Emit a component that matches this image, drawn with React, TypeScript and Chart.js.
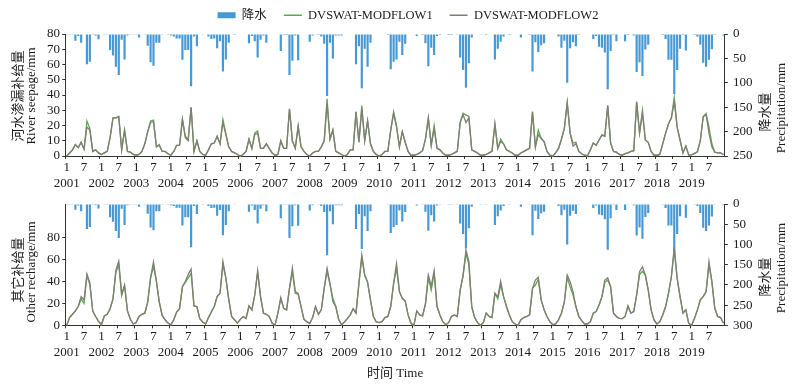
import React, { useEffect, useRef } from 'react';
import { Chart, registerables } from 'chart.js';

Chart.register(...registerables);

const FONT = "'Liberation Serif', 'Noto Sans CJK SC', serif";
const TEXT = '#1a1a1a';
const AXIS = '#333333';
const BAR_COLOR = '#4599d6';
const GREEN = '#55ad46';
const GRAY = '#857c78';

const years = [2001, 2002, 2003, 2004, 2005, 2006, 2007, 2008, 2009, 2010, 2011, 2012, 2013, 2014, 2015, 2016, 2017, 2018, 2019];
const monthNumbers = [1, 2, 3, 4, 5, 6, 7, 8, 9, 10, 11, 12];
const monthLabels = years.flatMap((y) => monthNumbers.map((m) => `${y}-${m}`));

// 降水 Precipitation (mm), one row per year
const precipitation = [
  [0.5, 0.5, 0.5, 14, 4, 18, 1, 62, 57, 0.5, 3, 11],
  [1, 0.5, 0.5, 33, 44, 67, 84, 12, 52, 3, 0.5, 0.5],
  [0.5, 7, 1, 0.5, 24, 58, 65, 18, 18, 0.5, 1, 0.5],
  [3, 5, 9, 9, 53, 33, 33, 107, 5, 25, 1, 0.5],
  [1, 5, 10, 9, 29, 15, 77, 52, 18, 1, 2, 1],
  [1, 1, 1, 19, 4, 15, 48, 12, 3, 18, 1, 1],
  [1, 1, 35, 2, 2, 84, 55, 3, 54, 1, 1, 1],
  [16, 3, 1, 2, 5, 20, 127, 18, 50, 3, 3, 3],
  [1, 1, 1, 1, 62, 25, 111, 30, 67, 18, 1, 1],
  [1, 1, 1, 2, 72, 57, 52, 16, 43, 20, 1, 1],
  [1, 4, 1, 2, 19, 66, 28, 43, 4, 2, 1, 1],
  [2, 2, 1, 0.5, 48, 74, 110, 60, 7, 1, 1, 0.5],
  [1, 2, 1, 1, 52, 30, 16, 5, 1, 2, 1, 1],
  [1, 7, 1, 1, 2, 77, 17, 37, 23, 19, 1, 1],
  [1, 1, 5, 28, 14, 100, 29, 17, 25, 2, 1, 1],
  [1, 1, 10, 4, 26, 28, 38, 113, 35, 2, 15, 1],
  [1, 15, 2, 1, 3, 78, 58, 86, 32, 22, 1, 1],
  [1, 1, 2, 10, 53, 53, 123, 74, 30, 2, 34, 1],
  [1, 2, 5, 22, 59, 67, 53, 31, 2, 1, 1, 3],
].flat();

// 河水渗漏补给量 River seepage (mm) — DVSWAT-MODFLOW1
const seepage1 = [
  [0, 2, 4, 7.5, 5.5, 9, 4.5, 23, 18, 3, 4, 2],
  [1, 2, 3, 12, 25, 25, 26, 4, 17, 3, 2.5, 1],
  [0.5, 1, 3, 8, 16, 23, 23.5, 6, 7.5, 3, 3, 1.5],
  [0.5, 3, 7, 7, 24, 13, 11, 32, 3, 10, 3, 1],
  [0.5, 4, 8, 8.5, 13, 8, 24, 15, 6, 3, 2, 1],
  [0, 1, 3, 11, 5, 15, 16.5, 5, 5, 8, 5, 2],
  [0.5, 1, 10, 5, 5, 31, 10, 5, 20, 6, 3, 1],
  [0, 2, 3, 3, 6, 10, 37.5, 11, 17, 3, 2, 1],
  [0, 1, 4, 4, 29, 9, 33, 10, 23, 8, 3, 1],
  [0, 1, 3, 3, 17, 29, 20, 6, 16, 9, 3, 0.5],
  [0.5, 1, 2, 3.5, 11, 25, 7, 20, 5, 4, 2, 0.5],
  [0.5, 1, 2, 3, 22, 28, 27, 26, 4, 3, 2, 0.5],
  [0.5, 1, 2, 3, 21, 5, 11, 8, 4, 3, 2, 0.5],
  [0.5, 2, 3, 4, 5, 29, 6, 17, 11.5, 9.5, 3, 0.5],
  [0, 2, 5, 11, 18, 35, 15, 8.5, 9, 3, 1.5, 0.5],
  [0, 4, 8.5, 7, 10.5, 14, 13, 33, 8.5, 3, 2.5, 1],
  [0.5, 1.5, 2, 3, 3.5, 35.5, 15, 30, 10.5, 9, 3, 0.5],
  [0.5, 1, 8, 15, 21, 25, 38.5, 19, 10.5, 2, 6.5, 0.6],
  [0.7, 1.7, 2.8, 10, 25.8, 28, 19, 8, 2.5, 2, 2, 1],
].flat();

// 河水渗漏补给量 River seepage (mm) — DVSWAT-MODFLOW2
const seepage2 = [
  [0, 2, 4, 7.5, 5.5, 9, 4.5, 19, 17, 3, 4, 2],
  [1, 2, 3, 12, 25, 25, 25.5, 4, 17, 3, 2.5, 1],
  [0.5, 1, 3, 8, 16, 22, 22.5, 6, 7, 3, 3, 1.5],
  [0.5, 3, 7, 7, 24, 12, 10, 32, 3, 10, 3, 1],
  [0.5, 4, 8, 8.5, 13, 8, 22, 14, 6, 3, 2, 1],
  [0, 1, 3, 11, 5, 14, 15, 5, 5, 8, 5, 2],
  [0.5, 1, 10, 5, 5, 31, 10, 5, 19, 6, 3, 1],
  [0, 2, 3, 3, 6, 10, 34, 11, 17, 3, 2, 1],
  [0, 1, 4, 4, 29, 9, 31, 10, 23, 8, 3, 1],
  [0, 1, 3, 3, 17, 28, 19, 6, 16, 9, 3, 0.5],
  [0.5, 1, 2, 3.5, 11, 25, 7, 18, 5, 4, 2, 0.5],
  [0.5, 1, 2, 3, 22, 27, 22, 25, 4, 3, 2, 0.5],
  [0.5, 1, 2, 3, 21, 5, 9.5, 8, 4, 3, 2, 0.5],
  [0.5, 2, 3, 4, 5, 29, 6, 14, 11.5, 9.5, 3, 0.5],
  [0, 2, 5, 11, 18, 35, 15, 6.5, 8, 3, 1.5, 0.5],
  [0, 4, 8.5, 7, 10.5, 13.5, 13, 33, 8.5, 3, 2.5, 1],
  [0.5, 1.5, 2, 3, 3.5, 35.5, 15, 28, 10.5, 9, 3, 0.5],
  [0.5, 1, 8, 15, 21, 25, 35.5, 19, 10.5, 2, 6.5, 0.6],
  [0.7, 1.7, 2.8, 10, 25.8, 27, 15, 6, 2.5, 2, 2, 1],
].flat();

// 其它补给量 Other recharge (mm) — DVSWAT-MODFLOW1
const recharge1 = [
  [0, 7, 10, 13, 17, 24, 20, 45, 37, 13, 8, 3.5],
  [0.5, 8.5, 10, 15, 24, 48, 55, 27, 36, 13, 5.5, 1.2],
  [2.5, 8, 10, 11, 21, 43, 53, 40, 21, 9, 5, 2],
  [0.5, 5, 12, 15, 35, 39, 43, 47, 17.5, 17, 6, 3],
  [1.2, 7, 12, 17, 26, 29, 55, 43, 23, 8, 5, 2],
  [5.4, 8, 6.3, 17.5, 14, 27.5, 48, 26, 11, 10, 8, 2],
  [0, 11, 24.5, 15.4, 14, 33.5, 48.6, 29, 28, 17, 5.4, 3.3],
  [1.7, 7, 17, 10, 14, 33.5, 49, 37, 24.5, 17, 5.5, 0.5],
  [3, 6, 9.5, 15, 11, 38, 61, 45, 39, 23, 8, 3],
  [2.4, 3.3, 7, 8, 17, 38, 51.6, 30.5, 24.5, 22, 9.4, 1.8],
  [0, 13, 9.4, 8.5, 19.3, 43, 32, 47, 17, 9.4, 3.3, 0.5],
  [2.4, 8, 9.4, 8, 32, 45, 65, 55, 17, 7, 2.4, 0],
  [2.4, 11, 8, 7, 29, 24, 36.5, 26, 17, 9.4, 3.3, 1.2],
  [0, 5, 7, 8, 9.4, 33.5, 36.5, 41.7, 23, 14, 8, 3.3],
  [0.5, 1.2, 5, 11, 21, 43.5, 35, 27.5, 17, 8, 4.2, 1.2],
  [1.2, 3.3, 11, 12.4, 18.4, 26, 39, 41, 35, 11, 8, 6.3],
  [6, 8, 17.5, 11, 12.4, 27.5, 46, 49, 45.6, 32, 14, 4.8],
  [1.2, 3.3, 9.4, 17, 29, 44, 68, 42.6, 26, 11, 14, 1.8],
  [0, 6.3, 14, 23, 26, 30.5, 54.7, 39.6, 15.4, 8, 7, 1.8],
].flat();

// 其它补给量 Other recharge (mm) — DVSWAT-MODFLOW2
const recharge2 = [
  [0, 7, 10, 13, 17, 26, 23, 46.5, 38.5, 13, 8, 3.5],
  [0.5, 8.5, 10, 15, 24, 50, 58, 28, 36.5, 13, 5.5, 1.2],
  [2.5, 8, 10, 11, 21, 43.5, 57.5, 40, 21, 9, 5, 2],
  [0.5, 5, 12, 15, 35, 40, 46, 51, 17.5, 17, 6, 3],
  [1.2, 7, 12, 17, 26, 29, 58, 43, 24, 8, 5, 2],
  [5.4, 8, 6.3, 17.5, 14, 27.5, 49.5, 26, 11, 10, 8, 2],
  [0, 11, 25, 15.4, 14, 33.5, 52, 30.5, 29, 17, 5.4, 3.3],
  [1.7, 7, 17, 10, 14, 33.5, 51.6, 38, 21.5, 17, 5.5, 0.5],
  [3, 6, 9.5, 15, 11, 38, 64, 46, 39, 23, 8, 3],
  [2.4, 3.3, 7, 8, 17, 38, 56, 30.5, 24.5, 22, 9.4, 1.8],
  [0, 13, 9.4, 8.5, 19.3, 45.6, 35.6, 49.5, 17, 9.4, 3.3, 0.5],
  [2.4, 8, 9.4, 8, 32, 45, 68, 58, 17, 7, 2.4, 0],
  [2.4, 11, 8, 7, 29, 26, 40, 26, 17, 9.4, 3.3, 1.2],
  [0, 5, 7, 8, 9.4, 33.5, 41, 43.5, 23, 14, 8, 3.3],
  [0.5, 1.2, 5, 11, 21, 45.6, 39.6, 30.5, 17, 8, 4.2, 1.2],
  [1.2, 3.3, 11, 12.4, 18.4, 26, 41, 43, 35, 11, 8, 6.3],
  [6, 8, 17.5, 11, 12.4, 27.5, 48.6, 53, 45.6, 32, 14, 4.8],
  [1.2, 3.3, 9.4, 17, 29, 44, 71, 42.6, 26, 11, 14, 1.8],
  [0, 6.3, 14, 23, 26, 30.5, 57.7, 39.6, 15.4, 8, 7, 1.8],
].flat();

const seriesNames = ['降水', 'DVSWAT-MODFLOW1', 'DVSWAT-MODFLOW2'];

const axisTitlePlugin = {
  id: 'axisTitles',
  afterDraw(chart: any, _args: any, opts: any) {
    const ctx = chart.ctx;
    ctx.save();
    ctx.fillStyle = TEXT;
    ctx.textAlign = 'center';
    ctx.textBaseline = 'middle';
    for (const item of opts.items || []) {
      ctx.font = `${item.size}px ${FONT}`;
      ctx.save();
      ctx.translate(item.x, item.y);
      ctx.rotate(-Math.PI / 2);
      ctx.fillText(item.text, 0, 0);
      ctx.restore();
    }
    ctx.restore();
  },
};

// moves the legend box after layout so it sits where the reference legend sits
const legendShiftPlugin = {
  id: 'legendShift',
  afterLayout(chart: any, _args: any, opts: any) {
    const lg = chart.legend;
    if (!lg || !chart.options.plugins.legend.display) return;
    const dx = opts.dx || 0;
    lg.left += dx;
    lg.right += dx;
    if (typeof opts.top === 'number') {
      const h = lg.bottom - lg.top;
      lg.top = opts.top;
      lg.bottom = opts.top + h;
    }
  },
};

const LEGEND_PAD = 17;
const TOP_PAD = -8;
const PLOT_TOP = 34;

function makeConfig(isTop: boolean): any {
  const font = { family: FONT, size: 13 };
  const scales: any = {
    x: {
      type: 'category',
      offset: true,
      grid: {
        display: true,
        drawOnChartArea: false,
        drawTicks: true,
        tickLength: 3,
        offset: true,
        color: (c: any) => (typeof c.index === 'number' && c.index % 6 === 0 ? AXIS : 'rgba(0,0,0,0)'),
      },
      border: { display: true, color: AXIS, width: 1 },
      ticks: {
        autoSkip: false,
        maxRotation: 0,
        minRotation: 0,
        padding: isTop ? 1.2 : 0.6,
        font,
        color: TEXT,
        callback: (_v: any, i: number) => {
          const m = i % 12;
          if (m === 0) return ['1', String(years[Math.floor(i / 12)])];
          if (m === 6) return '7';
          return '';
        },
      },
      title: isTop
        ? { display: false }
        : { display: true, text: '时间 Time', font, color: TEXT, padding: { top: 0, bottom: 8.9 } },
      afterFit: (s: any) => {
        s.height = isTop ? 34 : 64.7;
      },
    },
    y: {
      type: 'linear',
      position: 'left',
      min: 0,
      max: isTop ? 80 : 110,
      ticks: { stepSize: isTop ? 10 : 20, autoSkip: false, font, color: TEXT, padding: 2.2 },
      grid: { drawOnChartArea: false, drawTicks: true, tickLength: 3, color: AXIS },
      border: { display: true, color: AXIS, width: 1 },
      afterBuildTicks: (s: any) => {
        s.ticks = s.ticks.filter((t: any) => t.value <= (isTop ? 80 : 100));
      },
      afterFit: (s: any) => {
        s.width = 65.25;
      },
    },
    yR: {
      type: 'linear',
      position: 'right',
      reverse: true,
      min: 0,
      max: isTop ? 250 : 300,
      ticks: { stepSize: 50, autoSkip: false, font, color: TEXT, padding: 5 },
      grid: { drawOnChartArea: false, drawTicks: true, tickLength: 3, color: AXIS },
      border: { display: true, color: AXIS, width: 1 },
      afterFit: (s: any) => {
        s.width = 75.1;
      },
    },
  };
  if (isTop) {
    scales.xTop = {
      type: 'linear',
      position: 'top',
      display: true,
      min: 0,
      max: 1,
      grid: { display: false },
      border: { display: false },
      ticks: { display: false },
      afterFit: (s: any) => {
        const lh = s.chart.legend ? s.chart.legend.height : 0;
        s.height = Math.max(0, PLOT_TOP - TOP_PAD - lh);
      },
    };
  }

  const titleItems = isTop
    ? [
        { text: '河水渗漏补给量', x: 19, y: 96, size: 13 },
        { text: 'River seepage/mm', x: 31.5, y: 96, size: 13 },
        { text: '降水量', x: 766, y: 112, size: 13 },
        { text: 'Precipitation/mm', x: 781.5, y: 108, size: 13 },
      ]
    : [
        { text: '其它补给量', x: 19, y: 80, size: 13 },
        { text: 'Other recharge/mm', x: 32, y: 82, size: 13 },
        { text: '降水量', x: 766, y: 87, size: 13 },
        { text: 'Precipitation/mm', x: 781.5, y: 78, size: 13 },
      ];

  return {
    type: 'bar',
    data: {
      labels: monthLabels,
      datasets: [
        {
          type: 'bar',
          label: seriesNames[0],
          data: precipitation,
          yAxisID: 'yR',
          xAxisID: 'x',
          backgroundColor: BAR_COLOR,
          borderWidth: 0,
          barPercentage: 0.75,
          categoryPercentage: 1,
          order: 2,
        },
        {
          type: 'line',
          label: seriesNames[1],
          data: isTop ? seepage1 : recharge1,
          yAxisID: 'y',
          xAxisID: 'x',
          borderColor: GREEN,
          backgroundColor: GREEN,
          borderWidth: 1.3,
          pointRadius: 0,
          tension: 0,
          fill: false,
          clip: 3,
          order: 1,
        },
        {
          type: 'line',
          label: seriesNames[2],
          data: isTop ? seepage2 : recharge2,
          yAxisID: 'y',
          xAxisID: 'x',
          borderColor: GRAY,
          backgroundColor: GRAY,
          borderWidth: 1.3,
          pointRadius: 0,
          tension: 0,
          fill: false,
          clip: 3,
          order: 0,
        },
      ],
    },
    options: {
      responsive: false,
      maintainAspectRatio: false,
      animation: false,
      devicePixelRatio: 1,
      layout: { padding: { left: 0, right: 0, top: isTop ? TOP_PAD : 14, bottom: 0 } },
      plugins: {
        tooltip: { enabled: false },
        axisTitles: { items: titleItems },
        legendShift: { dx: 8, top: 15.25 - (LEGEND_PAD + 6.25) },
        legend: {
          display: isTop,
          position: 'top',
          align: 'center',
          labels: {
            usePointStyle: true,
            pointStyleWidth: 18,
            boxHeight: 6,
            padding: LEGEND_PAD,
            color: TEXT,
            font: { family: FONT, size: 12.5 },
            generateLabels: () => [
              { text: seriesNames[0], fillStyle: BAR_COLOR, strokeStyle: BAR_COLOR, lineWidth: 0, pointStyle: 'rect', datasetIndex: 0, hidden: false, fontColor: TEXT },
              { text: seriesNames[1], fillStyle: GREEN, strokeStyle: GREEN, lineWidth: 1.3, pointStyle: 'line', datasetIndex: 1, hidden: false, fontColor: TEXT },
              { text: seriesNames[2], fillStyle: GRAY, strokeStyle: GRAY, lineWidth: 1.3, pointStyle: 'line', datasetIndex: 2, hidden: false, fontColor: TEXT },
            ],
          },
        },
      },
      scales,
    },
    plugins: [axisTitlePlugin, legendShiftPlugin],
  };
}

export default function App() {
  const topRef = useRef<HTMLCanvasElement>(null);
  const botRef = useRef<HTMLCanvasElement>(null);

  useEffect(() => {
    const c1 = new Chart(topRef.current as HTMLCanvasElement, makeConfig(true));
    const c2 = new Chart(botRef.current as HTMLCanvasElement, makeConfig(false));
    return () => {
      c1.destroy();
      c2.destroy();
    };
  }, []);

  return (
    <div style={{ position: 'absolute', left: 0, top: 0, width: 800, height: 390, background: '#ffffff', overflow: 'hidden' }}>
      <canvas ref={topRef} width={800} height={190} style={{ position: 'absolute', left: 0, top: 0, width: 800, height: 190 }} />
      <canvas ref={botRef} width={800} height={200} style={{ position: 'absolute', left: 0, top: 190, width: 800, height: 200 }} />
    </div>
  );
}
